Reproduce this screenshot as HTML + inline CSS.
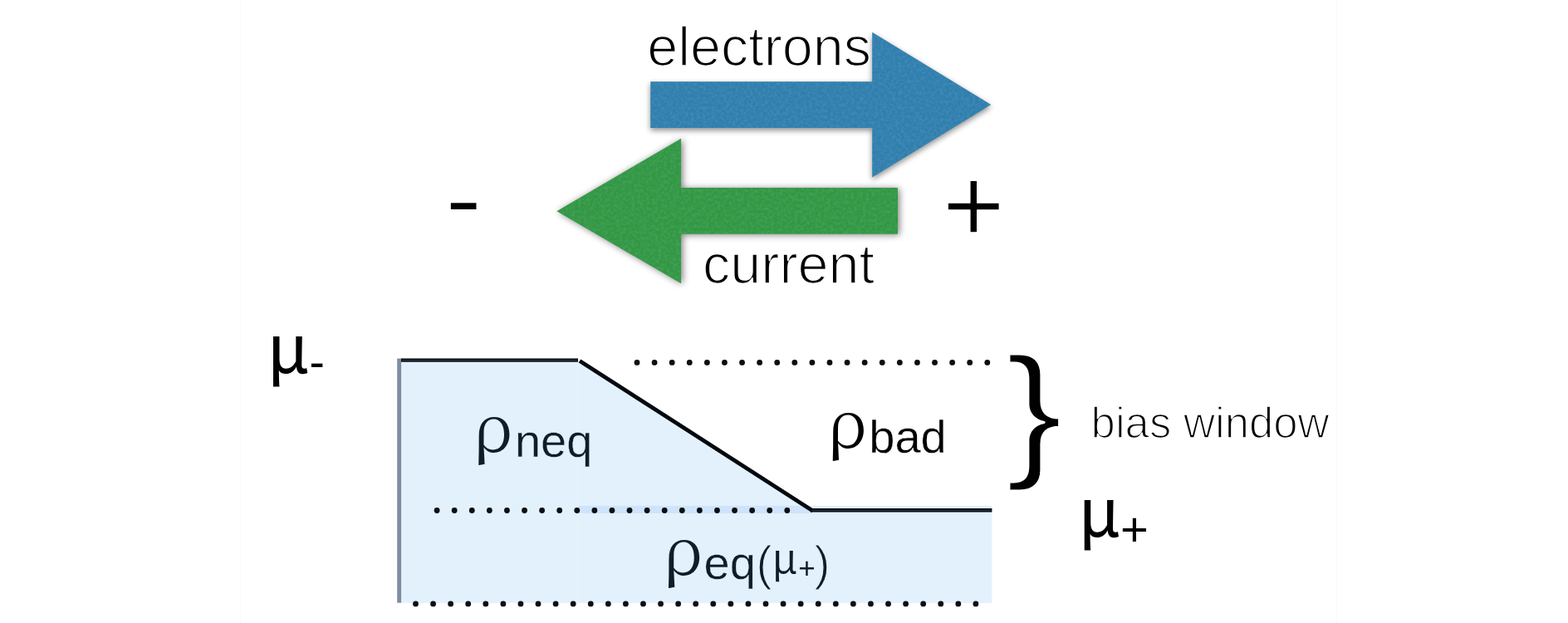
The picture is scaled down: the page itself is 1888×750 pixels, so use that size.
<!DOCTYPE html>
<html lang="en">
<head>
<meta charset="utf-8">
<title>Bias window diagram</title>
<style>
  html, body { margin: 0; padding: 0; background: #ffffff; }
  body { width: 1888px; height: 750px; overflow: hidden; }
  svg { display: block; }
  text { font-family: "Liberation Sans", sans-serif; fill: #000; }
  .light { stroke: #ffffff; stroke-width: 1.7px; stroke-linejoin: round; }
  .navy { fill: #0f1c29; }
  .mu { font-family: "Noto Sans CJK SC", "Liberation Sans", sans-serif; }
  .rho { font-family: "Noto Serif CJK SC", "Liberation Serif", serif; }
  .thinbr { stroke: #ffffff; stroke-width: 3px; stroke-linejoin: round; }
  .thinw { stroke: #ffffff; stroke-width: 0.35px; stroke-linejoin: round; }
  .thinb { stroke: #e3f1fd; stroke-width: 0.35px; stroke-linejoin: round; }
  .lightb { stroke: #e3f1fd; stroke-width: 1.2px; stroke-linejoin: round; }
</style>
</head>
<body>
<svg width="1888" height="750" viewBox="0 0 1888 750">
  <defs>
    <filter id="shB" x="-10%" y="-15%" width="125%" height="135%" color-interpolation-filters="sRGB">
      <feGaussianBlur in="SourceAlpha" stdDeviation="3.6"/>
      <feOffset dx="-0.5" dy="2.8" result="b"/>
      <feComponentTransfer result="shadow"><feFuncA type="linear" slope="0.45"/></feComponentTransfer>
      <feTurbulence type="fractalNoise" baseFrequency="0.28" numOctaves="2" seed="7" result="n"/>
      <feColorMatrix in="n" type="matrix" values="0 0 0 0 1  0 0 0 0 1  0 0 0 0 1  0.2 0 0 0 -0.07" result="w"/>
      <feComposite in="w" in2="SourceAlpha" operator="in" result="wn"/>
      <feMerge><feMergeNode in="shadow"/><feMergeNode in="SourceGraphic"/><feMergeNode in="wn"/></feMerge>
    </filter>
    <filter id="shG" x="-10%" y="-15%" width="125%" height="135%" color-interpolation-filters="sRGB">
      <feGaussianBlur in="SourceAlpha" stdDeviation="4.2"/>
      <feOffset dx="1.8" dy="0.5" result="b"/>
      <feComponentTransfer result="shadow"><feFuncA type="linear" slope="0.5"/></feComponentTransfer>
      <feTurbulence type="fractalNoise" baseFrequency="0.28" numOctaves="2" seed="11" result="n"/>
      <feColorMatrix in="n" type="matrix" values="0 0 0 0 1  0 0 0 0 1  0 0 0 0 1  0.2 0 0 0 -0.07" result="w"/>
      <feComposite in="w" in2="SourceAlpha" operator="in" result="wn"/>
      <feMerge><feMergeNode in="shadow"/><feMergeNode in="SourceGraphic"/><feMergeNode in="wn"/></feMerge>
    </filter>
  </defs>
  <rect x="0" y="0" width="1888" height="750" fill="#ffffff"/>
  <rect x="289" y="0" width="1" height="750" fill="#fafafa"/>
  <rect x="1609" y="0" width="1" height="750" fill="#fafafa"/>

  <!-- arrows -->
  <polygon id="blueArrow" filter="url(#shB)" fill="#2f7eae"
     points="783.2,98.2 1050.2,98.2 1050.2,38.7 1193.3,126.1 1050.2,213.5 1050.2,154.1 783.2,154.1"/>
  <polygon id="greenArrow" filter="url(#shG)" fill="#319744"
     points="1081,226 820.1,226 820.1,166.8 670.4,254.3 820.1,341.3 820.1,281.7 1081,281.7"/>

  <!-- top labels -->
  <g id="toplabels" opacity="0.999">
  <text id="electrons" class="light" x="779.2" y="78.7" font-size="66.5">electrons</text>
  <text id="current" class="light" x="846.0" y="341.2" font-size="66.5">current</text>
  <text id="minus" transform="translate(537.2,274.05) scale(1.185,0.93)" font-size="106">-</text>
  <text id="plus" class="light" x="1134.8" y="291.4" font-size="128.6">+</text>
  </g>

  <!-- density diagram -->
  <rect x="483" y="434" width="213" height="291.9" fill="#e3f1fd"/>
  <polygon points="696,434 977.3,614 977.3,618 696,618" fill="#e3f1fd"/>
  <rect x="696" y="609" width="498.4" height="116.9" fill="#e3f1fd"/>
  <polygon points="696,609 969.5,609 977.3,614 977.3,618 696,618" fill="#cfe3fa"/>
  <rect x="694.8" y="434" width="1.3" height="291.9" fill="#ecf5fe"/>
  <rect x="478.2" y="431.6" width="4.9" height="294.1" fill="#7e8da2"/>

  <g id="edges" stroke="#05090e">
    <line x1="483" y1="433.7" x2="696" y2="433.7" stroke-width="4.3"/>
    <line x1="698.0" y1="434.4" x2="978.7" y2="614.9" stroke-width="4.8"/>
    <line x1="976" y1="614.2" x2="1194.4" y2="614.2" stroke-width="4.4"/>
  </g>
  <g id="edgecores" stroke="#27313d">
    <line x1="484" y1="433.7" x2="695" y2="433.7" stroke-width="1.6"/>
    <line x1="978" y1="614.2" x2="1193.4" y2="614.2" stroke-width="1.6"/>
  </g>

  <g id="dots" fill="#0a0f14">
    <circle cx="767.00" cy="436.45" r="3.4"/>
    <circle cx="788.09" cy="436.45" r="3.4"/>
    <circle cx="809.18" cy="436.45" r="3.4"/>
    <circle cx="830.27" cy="436.45" r="3.4"/>
    <circle cx="851.36" cy="436.45" r="3.4"/>
    <circle cx="872.45" cy="436.45" r="3.4"/>
    <circle cx="893.54" cy="436.45" r="3.4"/>
    <circle cx="914.63" cy="436.45" r="3.4"/>
    <circle cx="935.72" cy="436.45" r="3.4"/>
    <circle cx="956.81" cy="436.45" r="3.4"/>
    <circle cx="977.90" cy="436.45" r="3.4"/>
    <circle cx="998.99" cy="436.45" r="3.4"/>
    <circle cx="1020.08" cy="436.45" r="3.4"/>
    <circle cx="1041.17" cy="436.45" r="3.4"/>
    <circle cx="1062.26" cy="436.45" r="3.4"/>
    <circle cx="1083.35" cy="436.45" r="3.4"/>
    <circle cx="1104.44" cy="436.45" r="3.4"/>
    <circle cx="1125.53" cy="436.45" r="3.4"/>
    <circle cx="1146.62" cy="436.45" r="3.4"/>
    <circle cx="1167.71" cy="436.45" r="3.4"/>
    <circle cx="1188.80" cy="436.45" r="3.4"/>
    <circle cx="526.10" cy="614.5" r="3.4"/>
    <circle cx="547.19" cy="614.5" r="3.4"/>
    <circle cx="568.27" cy="614.5" r="3.4"/>
    <circle cx="589.36" cy="614.5" r="3.4"/>
    <circle cx="610.44" cy="614.5" r="3.4"/>
    <circle cx="631.53" cy="614.5" r="3.4"/>
    <circle cx="652.61" cy="614.5" r="3.4"/>
    <circle cx="673.70" cy="614.5" r="3.4"/>
    <circle cx="694.78" cy="614.5" r="3.4"/>
    <circle cx="715.87" cy="614.5" r="3.4"/>
    <circle cx="736.95" cy="614.5" r="3.4"/>
    <circle cx="758.04" cy="614.5" r="3.4"/>
    <circle cx="779.12" cy="614.5" r="3.4"/>
    <circle cx="800.21" cy="614.5" r="3.4"/>
    <circle cx="821.29" cy="614.5" r="3.4"/>
    <circle cx="842.38" cy="614.5" r="3.4"/>
    <circle cx="863.46" cy="614.5" r="3.4"/>
    <circle cx="884.55" cy="614.5" r="3.4"/>
    <circle cx="905.63" cy="614.5" r="3.4"/>
    <circle cx="926.72" cy="614.5" r="3.4"/>
    <circle cx="947.80" cy="614.5" r="3.4"/>
    <circle cx="500.50" cy="726.9" r="3.4"/>
    <circle cx="521.58" cy="726.9" r="3.4"/>
    <circle cx="542.65" cy="726.9" r="3.4"/>
    <circle cx="563.73" cy="726.9" r="3.4"/>
    <circle cx="584.80" cy="726.9" r="3.4"/>
    <circle cx="605.88" cy="726.9" r="3.4"/>
    <circle cx="626.95" cy="726.9" r="3.4"/>
    <circle cx="648.02" cy="726.9" r="3.4"/>
    <circle cx="669.10" cy="726.9" r="3.4"/>
    <circle cx="690.17" cy="726.9" r="3.4"/>
    <circle cx="711.25" cy="726.9" r="3.4"/>
    <circle cx="732.33" cy="726.9" r="3.4"/>
    <circle cx="753.40" cy="726.9" r="3.4"/>
    <circle cx="774.47" cy="726.9" r="3.4"/>
    <circle cx="795.55" cy="726.9" r="3.4"/>
    <circle cx="816.62" cy="726.9" r="3.4"/>
    <circle cx="837.70" cy="726.9" r="3.4"/>
    <circle cx="858.77" cy="726.9" r="3.4"/>
    <circle cx="879.85" cy="726.9" r="3.4"/>
    <circle cx="900.92" cy="726.9" r="3.4"/>
    <circle cx="922.00" cy="726.9" r="3.4"/>
    <circle cx="943.08" cy="726.9" r="3.4"/>
    <circle cx="964.15" cy="726.9" r="3.4"/>
    <circle cx="985.22" cy="726.9" r="3.4"/>
    <circle cx="1006.30" cy="726.9" r="3.4"/>
    <circle cx="1027.38" cy="726.9" r="3.4"/>
    <circle cx="1048.45" cy="726.9" r="3.4"/>
    <circle cx="1069.53" cy="726.9" r="3.4"/>
    <circle cx="1090.60" cy="726.9" r="3.4"/>
    <circle cx="1111.67" cy="726.9" r="3.4"/>
    <circle cx="1132.75" cy="726.9" r="3.4"/>
    <circle cx="1153.82" cy="726.9" r="3.4"/>
    <circle cx="1174.90" cy="726.9" r="3.4"/>
  </g>

  <!-- labels -->
  <g id="labels" opacity="0.999">
  <text id="muL" class="mu" x="321.4" y="448.9" font-size="81.5">μ</text>
  <text id="muLs" x="372.6" y="455" font-size="55">-</text>
  <text id="muR" class="mu" x="1298.3" y="645.8" font-size="81.5">μ</text>
  <text id="muRs" x="1349" y="656.7" font-size="58">+</text>

  <text id="rho1" class="navy rho" x="569.8" y="543.8" font-size="79">ρ</text>
  <text id="neq" class="navy thinb" x="619.9" y="549.5" font-size="56">neq</text>

  <text id="rho2" class="rho" x="996.2" y="539.4" font-size="79">ρ</text>
  <text id="bad" class="thinw" x="1046.3" y="544.7" font-size="56">bad</text>

  <text id="rho3" class="navy rho" x="798.4" y="691.6" font-size="79">ρ</text>
  <text id="eq" class="navy thinb" x="847.5" y="696.5" font-size="56">eq</text>
  <text id="par1" class="navy lightb" x="910.6" y="697.7" font-size="57">(</text>
  <text id="mu3" class="navy mu" font-weight="350" x="929.6" y="689.9" font-size="49.5">μ</text>
  <text id="pl3" class="navy" x="961.2" y="696.2" font-size="35">+</text>
  <text id="par2" class="navy lightb" x="980.5" y="697.7" font-size="57">)</text>

  <text id="brace" class="thinbr" transform="translate(1211.3,553.7) scale(1.16,1)" font-size="176.2">}</text>
  <text id="bias" class="light" x="1313.6" y="526.9" font-size="52.7">bias window</text>
  </g>
</svg>
</body>
</html>
